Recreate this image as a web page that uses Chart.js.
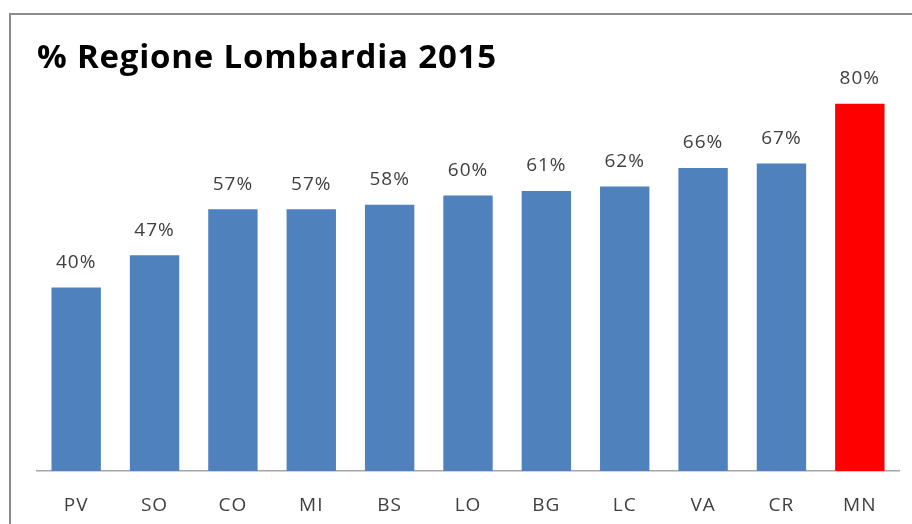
<!DOCTYPE html>
<html>
<head>
<meta charset="utf-8">
<script src="https://cdn.jsdelivr.net/npm/chart.js@4"></script>
<style>
  html, body { margin: 0; padding: 0; background: #fff; }
  #wrap { position: relative; width: 912px; height: 524px; overflow: hidden; }
  #frame { position: absolute; left: 9px; top: 13px; width: 960px; height: 560px;
           border-left: 2px solid #8c8c8c; border-top: 2px solid #8c8c8c; }
  #title { position: absolute; left: 37px; top: 33px; font: bold 33px "Open Sans", sans-serif;
           color: #000; letter-spacing: 0.8px; white-space: nowrap; }
  canvas { position: absolute; left: 0; top: 0; }
</style>
</head>
<body>
<div id="wrap">
  <div id="frame"></div>
  <canvas id="chart" width="912" height="524"></canvas>
  <div id="title">% Regione Lombardia 2015</div>
</div>
<script>
const provinces = ['PV', 'SO', 'CO', 'MI', 'BS', 'LO', 'BG', 'LC', 'VA', 'CR', 'MN'];
const percentages = [40, 47, 57, 57, 58, 60, 61, 62, 66, 67, 80];
const barColors = ['#4f81bd', '#4f81bd', '#4f81bd', '#4f81bd', '#4f81bd', '#4f81bd',
                   '#4f81bd', '#4f81bd', '#4f81bd', '#4f81bd', '#ff0000'];

// spaziatura lettere come nell'originale
const spacing = {
  id: 'spacing',
  beforeDraw(chart) { chart.ctx.letterSpacing = '1px'; }
};

// etichette sopra le barre
const valueLabels = {
  id: 'valueLabels',
  afterDatasetsDraw(chart) {
    const ctx = chart.ctx;
    const meta = chart.getDatasetMeta(0);
    ctx.save();
    ctx.font = '19px "Open Sans", sans-serif';
    ctx.fillStyle = '#404040';
    ctx.textAlign = 'center';
    ctx.textBaseline = 'middle';
    meta.data.forEach((bar, i) => {
      ctx.fillText(percentages[i] + '%', bar.x, bar.y - 25);
    });
    ctx.restore();
  }
};

new Chart(document.getElementById('chart'), {
  type: 'bar',
  data: {
    labels: provinces,
    datasets: [{
      data: percentages,
      backgroundColor: barColors,
      categoryPercentage: 1,
      barPercentage: 0.63
    }]
  },
  options: {
    responsive: false,
    animation: false,
    layout: { padding: { left: 37, right: 13, top: 12, bottom: 0 } },
    plugins: { legend: { display: false }, tooltip: { enabled: false } },
    scales: {
      x: {
        grid: { display: false, drawTicks: false },
        border: { display: true, color: '#a6a6a6', width: 1.5 },
        ticks: { color: '#404040', font: { size: 19, family: '"Open Sans", sans-serif' }, padding: 23 },
        afterFit(scale) { scale.height = 53; }
      },
      y: { display: false, min: 0, max: 100 }
    }
  },
  plugins: [spacing, valueLabels]
});
</script>
</body>
</html>
